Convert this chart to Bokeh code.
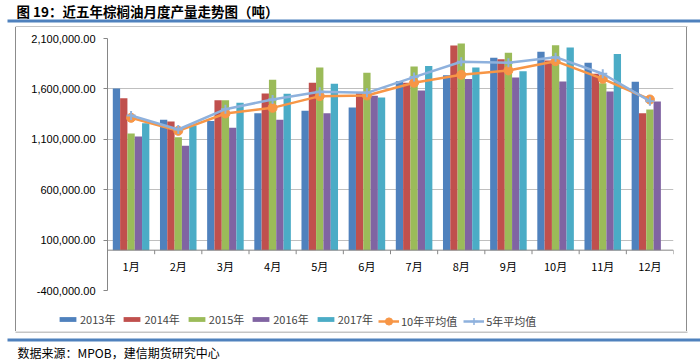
from bokeh.plotting import figure
from bokeh.models import (Range1d, FixedTicker, NumeralTickFormatter, Legend, LegendItem,
                          Span, Div, Spacer, Column, Row)
from bokeh.core.properties import value
from bokeh.embed import file_html
from bokeh.resources import INLINE

months = ["1月", "2月", "3月", "4月", "5月", "6月", "7月", "8月", "9月", "10月", "11月", "12月"]
y2013 = [1604000, 1293000, 1282000, 1359000, 1383000, 1416000, 1677000, 1736000, 1909000, 1968000, 1859000, 1671000]
y2014 = [1508000, 1277000, 1488000, 1555000, 1661000, 1558000, 1661000, 2031000, 1895000, 1882000, 1750000, 1359000]
y2015 = [1158000, 1121000, 1488000, 1690000, 1812000, 1760000, 1822000, 2051000, 1958000, 2034000, 1657000, 1396000]
y2016 = [1128000, 1035000, 1214000, 1293000, 1359000, 1531000, 1584000, 1697000, 1713000, 1674000, 1574000, 1475000]
y2017 = [1260000, 1237000, 1462000, 1551000, 1651000, 1515000, 1826000, 1812000, 1776000, 2011000, 1945000, None]
avg10 = [1313000, 1184000, 1356000, 1412000, 1528000, 1535000, 1661000, 1740000, 1783000, 1875000, 1700000, 1495000]
avg5 = [1336000, 1197000, 1399000, 1495000, 1571000, 1561000, 1717000, 1869000, 1859000, 1915000, 1750000, 1478000]
series_names = ["2013年", "2014年", "2015年", "2016年", "2017年"]
line_names = ["10年平均值", "5年平均值"]
y_ticks = [-400000, 100000, 600000, 1100000, 1600000, 2100000]
title_text = "图 19：近五年棕榈油月度产量走势图（吨）"
source_text = "数据来源：MPOB，建信期货研究中心"

bar_colors = ["#4F81BD", "#C0504D", "#9BBB59", "#8064A2", "#4BACC6"]
avg10_color = "#F79646"
avg5_color = "#8EB1DD"
rule_color = "#4F81BD"
box_color = "#8C8C8C"
CJK = "Noto Sans CJK SC"

W = 700
HEAD_H, BOX_H, FOOT_H = 27, 304, 33
INNER_W = 670            # inside of the grey chart box (page x 16..686)
MAIN_H, LEG_H = 278, 26  # main plot (page y 27..305) and legend strip (305..331)


def blank_fig(w, h):
    f = figure(width=w, height=h, output_backend="svg", toolbar_location=None,
               x_range=Range1d(0, w), y_range=Range1d(h, 0),
               x_axis_location=None, y_axis_location=None,
               min_border_left=0, min_border_right=0, min_border_top=0, min_border_bottom=0)
    f.grid.visible = False
    f.outline_line_color = None
    f.background_fill_color = "white"
    f.border_fill_color = "white"
    return f


# ---------- header: title + blue rule ----------
head = blank_fig(W, HEAD_H)
head.text(x=[16], y=[10], text=[title_text], text_baseline="middle",
          text_font=value(CJK), text_font_style="bold", text_font_size="13.5px",
          text_color="#000000")
head.quad(left=[7], right=[700], top=[19], bottom=[22], fill_color=rule_color, line_color=None)
head.quad(left=[15], right=[687], top=[26], bottom=[27], fill_color=box_color, line_color=None)

# ---------- main chart ----------
p = figure(width=INNER_W, height=MAIN_H, output_backend="svg", toolbar_location=None,
           x_range=Range1d(0, 12), y_range=Range1d(-400000, 2100000),
           x_axis_location=None, min_border_left=107 - 16, min_border_right=686 - 673,
           min_border_top=38 - 27, min_border_bottom=27 + MAIN_H - 290)
p.outline_line_color = None
p.background_fill_color = "white"
p.border_fill_color = "white"
p.xgrid.visible = False
p.ygrid.grid_line_color = "#BFBFBF"
p.ygrid.ticker = FixedTicker(ticks=y_ticks)

ax = p.yaxis[0]
ax.ticker = FixedTicker(ticks=y_ticks)
ax.formatter = NumeralTickFormatter(format="0,0.00")
ax.axis_line_color = "#868686"
ax.major_tick_line_color = "#868686"
ax.major_tick_out = 4
ax.major_tick_in = 0
ax.minor_tick_line_color = None
ax.major_label_standoff = 8
ax.major_label_text_font = "Liberation Sans"
ax.major_label_text_font_size = "11px"
ax.major_label_text_color = "#000000"

n = len(series_names)
bw = 0.155
centers = [i + 0.5 for i in range(len(months))]
all_series = [y2013, y2014, y2015, y2016, y2017]


def bar_xy(k, vals):
    xs = [c + (k - (n - 1) / 2) * bw for c, v in zip(centers, vals) if v is not None]
    ys = [v for v in vals if v is not None]
    return xs, ys


for k, (vals, col) in enumerate(zip(all_series, bar_colors)):
    xs, ys = bar_xy(k, vals)
    p.vbar(x=xs, top=ys, bottom=0, width=bw, fill_color=col, line_color=None)

# category axis drawn at zero
p.add_layout(Span(location=0, dimension="width", line_color="#868686", line_width=1))
bounds = list(range(len(months) + 1))
p.segment(x0=bounds, x1=bounds, y0=[0] * len(bounds), y1=[-40000] * len(bounds),
          line_color="#868686", line_width=1)
p.text(x=centers, y=[-160000] * len(months), text=months, text_align="center",
       text_baseline="middle", text_font=value(CJK), text_font_size="11px",
       text_color="#000000")

p.line(centers, avg10, line_color=avg10_color, line_width=2.5)
p.scatter(centers, avg10, marker="circle", size=9, fill_color=avg10_color, line_color=avg10_color)
p.line(centers, avg5, line_color=avg5_color, line_width=2.5)
p.scatter(centers, avg5, marker="cross", size=9, line_color=avg5_color, line_width=2)

# ---------- legend strip (proxy renderers carry the same data, far outside this strip's range) ----------
lg = blank_fig(INNER_W, LEG_H)
bar_items = []
for k, (nm, vals, col) in enumerate(zip(series_names, all_series, bar_colors)):
    xs, ys = bar_xy(k, vals)
    r = lg.vbar(x=xs, top=ys, bottom=[v * 0.5 for v in ys], width=bw, fill_color=col, line_color=None)
    bar_items.append(LegendItem(label=nm, renderers=[r]))
r1 = lg.line(x=centers, y=avg10, line_color=avg10_color, line_width=2.5)
r2 = lg.scatter(x=centers, y=avg10, marker="circle", size=8, fill_color=avg10_color, line_color=avg10_color)
r3 = lg.line(x=centers, y=avg5, line_color=avg5_color, line_width=2.5)
r4 = lg.scatter(x=centers, y=avg5, marker="cross", size=8, line_color=avg5_color, line_width=1.5)
line_items = [LegendItem(label=line_names[0], renderers=[r1, r2]),
              LegendItem(label=line_names[1], renderers=[r3, r4])]

common = dict(orientation="horizontal", label_standoff=2, spacing=6, padding=0, margin=0,
              border_line_color=None, background_fill_alpha=0, label_text_font=CJK,
              label_text_font_size="11px", label_text_baseline="middle")
legend_bars = Legend(items=bar_items, location=(57 - 16, 4), glyph_width=21, glyph_height=6,
                     label_height=12, **common)
legend_lines = Legend(items=line_items, location=(378 - 16, 1), glyph_width=21, glyph_height=18,
                      label_height=18, **common)
lg.add_layout(legend_bars, "center")
lg.add_layout(legend_lines, "center")

# ---------- footer: box bottom, blue rule, source ----------
foot = blank_fig(W, FOOT_H)
foot.quad(left=[15], right=[687], top=[0], bottom=[1], fill_color=box_color, line_color=None)
foot.quad(left=[7], right=[700], top=[7], bottom=[10], fill_color=rule_color, line_color=None)
foot.text(x=[17], y=[21], text=[source_text], text_baseline="middle",
          text_font=value(CJK), text_font_size="12px", text_color="#000000")

side_l = Div(text="", width=1, height=BOX_H, margin=0, styles={"background-color": box_color})
side_r = Div(text="", width=1, height=BOX_H, margin=0, styles={"background-color": box_color})
inner = Column(children=[Row(children=[p], spacing=0, margin=0),
                         Row(children=[lg], spacing=0, margin=0)], spacing=0, margin=0)
box = Row(children=[Spacer(width=15, height=BOX_H, margin=0), side_l, inner, side_r],
          spacing=0, margin=0)
layout = Column(children=[head, box, foot], spacing=0, margin=0)

open("out.html", "w").write(file_html(layout, INLINE))
